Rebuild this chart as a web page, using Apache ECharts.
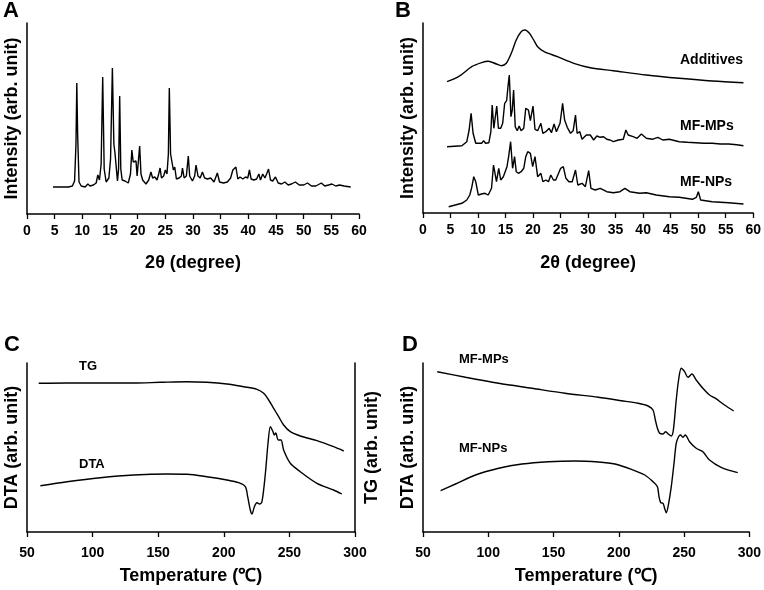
<!DOCTYPE html>
<html>
<head>
<meta charset="utf-8">
<script src="https://cdn.jsdelivr.net/npm/echarts@6/dist/echarts.min.js"></script>
<style>
  html, body { margin: 0; padding: 0; background: #fff; }
  #chart { width: 764px; height: 590px; }
</style>
</head>
<body>
<div id="chart"></div>
<script>
// XRD (2θ, intensity) – A: pure drug
const xrdMF = [[4.7,27],[6,27],[7.5,27],[8.2,28],[8.6,33],[8.85,70],[9.0,131],[9.15,80],[9.4,32],[9.8,28],[10.5,27],[11,30],[11.4,28],[12,29],[12.5,31],[12.8,39],[13.1,34],[13.4,50],[13.68,137],[13.95,45],[14.3,32],[14.8,36],[15.1,55],[15.43,146],[15.7,70],[15.9,61],[16.1,62],[16.35,33],[16.55,45],[16.75,118],[16.95,45],[17.2,34],[17.7,33],[18.3,31],[18.7,40],[18.95,64],[19.2,52],[19.5,50],[19.7,53],[19.9,38],[20.1,40],[20.36,68],[20.6,40],[20.9,34],[21.5,30],[22.0,34],[22.4,42],[22.7,36],[23.1,37],[23.5,34],[23.8,40],[24.05,46],[24.3,36],[24.7,38],[25.0,44],[25.3,40],[25.55,60],[25.72,126],[25.95,60],[26.2,52],[26.45,44],[26.7,47],[27.0,35],[27.5,36],[27.9,38],[28.1,46],[28.4,36],[28.8,38],[29.15,58],[29.4,38],[29.9,33],[30.3,38],[30.55,49],[30.9,38],[31.3,36],[31.7,42],[32.1,36],[32.6,35],[33.2,36],[33.8,32],[34.4,41],[34.8,32],[35.5,31],[36.2,32],[36.8,36],[37.2,44],[37.5,42],[37.75,47],[38.1,35],[38.5,37],[39,35],[39.5,37],[39.9,36],[40.2,44],[40.5,35],[41.0,34],[41.5,35],[41.9,40],[42.2,34],[42.6,40],[43.0,36],[43.3,40],[43.65,45],[44.0,34],[44.4,33],[44.9,37],[45.4,31],[46,30],[46.6,32],[47.2,29],[47.8,30],[48.5,32],[49.2,29],[50.0,29],[50.7,31],[51.4,28],[52.2,28],[53.2,31],[53.8,28],[54.5,29],[55.1,30],[55.8,28],[56.5,29],[57.3,28],[58.5,27]];

// B: additives, microparticles, nanoparticles (offset traces)
const xrdAdditives = [[4.37,131.3],[6.46,136.3],[8.86,146.3],[10.65,150.3],[11.85,151.7],[13.35,149],[14.24,147.3],[15.14,149.7],[16.04,159.7],[16.94,173],[17.83,181.3],[18.55,183],[19.33,179.7],[20.11,173],[20.83,166.3],[22.02,161.3],[24.42,156.3],[27.41,149.7],[30.4,145.3],[34.59,142.3],[40.57,138],[46.56,134.7],[52.54,132],[58.23,130.3]];

const xrdMPs = [[4.37,66.3],[7.06,67.3],[7.96,71.3],[8.38,83],[8.74,99.7],[9.1,79.7],[9.58,69.7],[10.65,69.7],[11.0,72.3],[11.37,69.7],[11.97,70.3],[12.33,81.3],[12.57,108],[12.87,84.7],[13.17,86.3],[13.4,107],[13.7,84.7],[14.12,84.7],[14.48,89.7],[14.84,109.7],[15.2,112.3],[15.44,126.3],[15.68,138],[15.98,96.3],[16.22,103],[16.46,123],[16.76,86.3],[17.12,82.3],[17.47,87],[17.83,82.3],[18.31,84.7],[18.67,104.7],[19.15,103],[19.51,92.3],[19.99,107],[20.35,83.7],[20.83,82.3],[21.42,89.7],[21.78,79.7],[22.32,81.3],[22.92,84.7],[23.34,80.3],[23.82,89],[24.24,81.3],[24.9,89.7],[25.37,109.7],[25.73,93],[26.21,85.7],[26.81,79.7],[27.29,82.3],[27.71,98],[28.0,79.7],[28.49,81.3],[28.9,73.7],[29.68,78],[30.4,78],[31.0,73],[31.6,77],[32.2,75.7],[32.8,76.3],[33.39,73.7],[33.99,73],[34.59,71.3],[35.49,73],[36.39,73.7],[36.86,83],[37.28,78],[38.18,76.3],[38.9,74.7],[39.68,79],[40.57,74.7],[41.65,73.7],[42.67,75.7],[43.57,73],[44.76,73.7],[46.56,71.3],[48.05,70.7],[49.55,70.3],[51.05,69.7],[52.54,69.7],[54.04,69],[55.54,69],[57.03,68.3],[58.23,67.3]];

const xrdNPs = [[4.67,6.3],[7.06,9.7],[7.96,13],[8.5,18],[8.86,25.7],[9.22,36.3],[9.58,31.3],[10.05,18],[10.65,19],[11.25,19.7],[11.85,18],[12.45,24.7],[12.81,48],[13.05,49.7],[13.35,31.3],[13.76,44.7],[14.12,33],[14.6,36.3],[14.96,38],[15.26,46.3],[15.56,56.3],[15.92,71.3],[16.28,44.7],[16.64,56.3],[16.94,41.3],[17.35,39.7],[17.83,41.3],[18.31,44.7],[18.67,56.3],[19.03,61.3],[19.51,59.7],[19.93,46.3],[20.35,56.3],[20.83,36.3],[21.42,39.7],[21.78,31.3],[22.32,33],[22.8,31.3],[23.22,38],[23.7,33],[24.12,33],[25.01,44.7],[25.49,46.3],[25.97,34.7],[26.51,31.3],[27.11,31.3],[27.71,43],[28.13,28],[28.91,29.7],[29.5,26.3],[30.1,42.3],[30.52,24.7],[31.3,23],[32.2,24.7],[33.39,21.3],[34.59,20.3],[35.79,21.3],[36.68,24.7],[37.58,21.3],[39.38,19.7],[40.57,20.3],[42.37,18],[44.76,16.3],[46.56,15.7],[48.95,13.7],[49.67,15.7],[50.03,21.3],[50.45,13],[52.54,11.3],[55.54,10.3],[58.23,9]];

// C: thermal analysis of the drug (temperature, signal)
const tgMF = [[58.9,148.7],[80.5,149],[105.9,149],[131.3,149],[151.6,149.7],[172,150.3],[187,149.7],[202.4,148],[215,145.3],[225.3,142.7],[230.4,138.7],[234.2,132],[238,123.7],[241.8,115.3],[245.6,107],[250.7,100.3],[258.3,96],[271,91.3],[283.7,85.3],[291.4,81]];
const dtaMF = [[60.2,46.3],[80.5,50.3],[105.9,54.3],[131.3,57],[156.7,58],[172,57.7],[187,55.3],[202.4,52],[211.3,49.3],[216.4,45.3],[218.2,35.3],[220.2,22],[221.5,18],[223.3,25.3],[225.3,29.3],[227.3,28],[229.1,30.3],[231.7,58.7],[233.7,88.7],[235.5,105.3],[237.5,100.3],[238.5,97],[239.6,99],[241.5,92],[243.6,92],[245.6,82],[250.7,68.7],[258.3,60.3],[271,48.7],[283.7,42],[290,38]];

// D: DTA of the particles
const dtaMPs = [[60.9,160.3],[82.6,154.7],[108,148.7],[133.4,143.7],[158.8,138.7],[184.3,134.7],[202,131.3],[214.8,128.7],[222.4,126],[226.2,122],[228,112],[229.6,103.7],[231.3,98.7],[233.9,98],[235.9,100.3],[238.2,97.7],[240.2,96],[241.8,102],[244,132],[245.8,152],[247.9,163.7],[250.4,160.3],[253,154.7],[256,158],[259.3,152],[264.4,143.7],[269.5,137],[273.3,134.3],[281,127],[288,121]];
const dtaNPs = [[63.5,41.3],[74.9,48],[90.2,57],[108,63.7],[125.8,68],[146.1,70.3],[166.5,71],[184.3,70],[197,68],[209.7,62.7],[219.9,57],[226.2,50.3],[229.6,45.3],[230.8,35.3],[232.1,29.3],[233.9,28.7],[235.1,23.7],[236.4,19.3],[238.2,28.7],[240.2,45.3],[242.3,68.7],[244,88.7],[245.8,95.3],[247.3,97],[249.1,94.7],[250.9,97],[254.2,90.3],[259.3,83.7],[264.4,80.3],[269.5,72],[278.4,64.7],[291.1,59.3]];

const FONT = 'Liberation Sans';

function xAx(grid, min, max, interval, name, margin, gap) {
  return {
    gridIndex: grid, type: 'value', min: min, max: max, interval: interval,
    name: name, nameLocation: 'middle', nameGap: gap,
    nameTextStyle: { fontFamily: FONT, fontWeight: 'bold', fontSize: 18, color: '#000' },
    axisLine: { lineStyle: { color: '#000', width: 1.5 } },
    axisTick: { show: true, inside: false, length: 5, lineStyle: { color: '#000', width: 1.3 } },
    axisLabel: { fontFamily: FONT, fontWeight: 'bold', fontSize: 14, color: '#000', margin: margin },
    splitLine: { show: false }
  };
}

function yAx(grid, max, name, pos, gap) {
  return {
    gridIndex: grid, type: 'value', min: 0, max: max, position: pos,
    name: name, nameLocation: 'middle', nameGap: gap, nameRotate: 90,
    nameTextStyle: { fontFamily: FONT, fontWeight: 'bold', fontSize: 18, color: '#000' },
    axisLine: { show: true, lineStyle: { color: '#000', width: 1.5 } },
    axisTick: { show: false },
    axisLabel: { show: false },
    splitLine: { show: false }
  };
}

function line(data, xi, yi, smooth) {
  return {
    type: 'line', data: data, xAxisIndex: xi, yAxisIndex: yi,
    showSymbol: false, smooth: smooth, animation: false,
    lineStyle: { color: '#000', width: 1.4 }
  };
}

function txt(x, y, s, size) {
  return {
    type: 'text', left: x, top: y,
    style: { text: s, fontFamily: FONT, fontWeight: 'bold', fontSize: size, fill: '#000' }
  };
}

const chart = echarts.init(document.getElementById('chart'));
chart.setOption({
  backgroundColor: '#fff',
  animation: false,
  grid: [
    { left: 27, top: 23, width: 332, height: 191 },
    { left: 423, top: 23, width: 334, height: 190 },
    { left: 27, top: 363, width: 328, height: 169 },
    { left: 423, top: 363, width: 327, height: 169 }
  ],
  xAxis: [
    xAx(0, 0, 60, 5, '2θ (degree)', 10, 40),
    xAx(1, 0, 60, 5, '2θ (degree)', 10, 41),
    xAx(2, 50, 300, 50, 'Temperature (℃)', 14, 35),
    xAx(3, 50, 300, 50, 'Temperature (℃)', 14, 35)
  ],
  yAxis: [
    yAx(0, 191, 'Intensity (arb. unit)', 'left', 6),
    yAx(1, 190, 'Intensity (arb. unit)', 'left', 6),
    yAx(2, 169, 'DTA (arb. unit)', 'left', 6),
    yAx(2, 169, 'TG (arb. unit)', 'right', 8),
    yAx(3, 169, 'DTA (arb. unit)', 'left', 6)
  ],
  series: [
    line(xrdMF, 0, 0, false),
    line(xrdAdditives, 1, 1, 0.3),
    line(xrdMPs, 1, 1, false),
    line(xrdNPs, 1, 1, false),
    line(dtaMF, 2, 2, 0.3),
    line(tgMF, 2, 3, 0.3),
    line(dtaMPs, 3, 4, 0.3),
    line(dtaNPs, 3, 4, 0.3)
  ],
  graphic: [
    txt(3, 0, 'A', 22),
    txt(395, 0, 'B', 22),
    txt(4, 334, 'C', 22),
    txt(402, 334, 'D', 22),
    txt(680, 53, 'Additives', 14),
    txt(680, 119, 'MF-MPs', 14),
    txt(680, 175, 'MF-NPs', 14),
    txt(79, 360, 'TG', 13),
    txt(79, 458, 'DTA', 13),
    txt(459, 353, 'MF-MPs', 13),
    txt(459, 442, 'MF-NPs', 13)
  ]
});
</script>
</body>
</html>
